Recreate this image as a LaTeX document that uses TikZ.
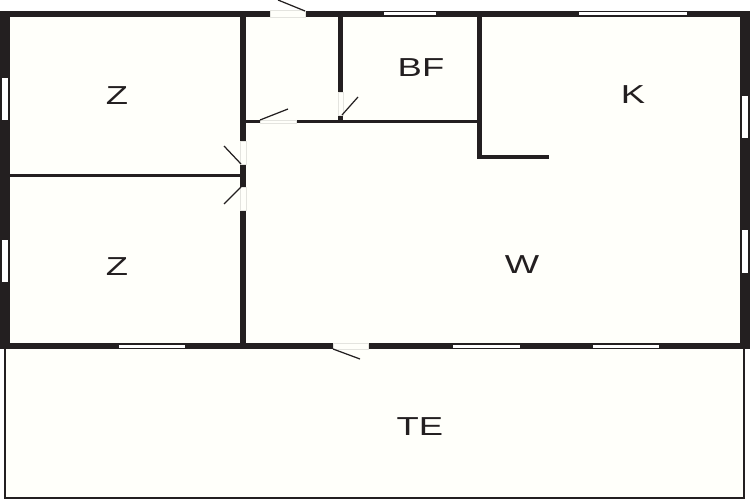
\documentclass[tikz,border=0pt]{standalone}
\usepackage{graphicx}
\usepackage{fontspec}
\setmainfont{Liberation Sans}
\definecolor{wallblack}{HTML}{231F20}
\definecolor{floorwhite}{HTML}{FFFFFA}
\definecolor{gapgrey}{HTML}{E4E4DF}
\newcommand{\roomname}[1]{\scalebox{1.4}[1]{#1}}
\tikzset{
    wall/.style = {
        fill=wallblack
    },
    window/.style = {
        fill=white
    },
    gap/.style = {
        fill=floorwhite,
        draw=gapgrey,
        line width=0.4pt
    },
    swing/.style = {
        draw=wallblack,
        line width=0.7pt
    },
    room/.style = {
        text=wallblack,
        inner sep=0pt,
        font=\fontsize{14.8}{15}\selectfont
    }
}
\begin{document}
\begin{tikzpicture}[x=0.02cm,y=-0.02cm]
    \useasboundingbox (0,0) rectangle (750,500);
    % floors
    \fill[white] (0,0) rectangle (750,500);
    \fill[floorwhite] (5,11) rectangle (745,498);
    % terrace
    \draw[wallblack, line width=1.1pt] (5,349) -- (5,498) -- (744,498) -- (744,349);
    % outer walls
    \fill[wall] (0,11) rectangle (750,17);
    \fill[wall] (0,11) rectangle (10,349);
    \fill[wall] (740,11) rectangle (750,349);
    \fill[wall] (0,343) rectangle (750,349);
    % inner walls
    \fill[wall] (240,17) rectangle (246,141);
    \fill[wall] (240,164) rectangle (246,187);
    \fill[wall] (240,210) rectangle (246,343);
    \fill[wall] (10,174) rectangle (240,177);
    \fill[wall] (246,120) rectangle (260,123);
    \fill[wall] (296,120) rectangle (480,123);
    \fill[wall] (338,17) rectangle (343,92);
    \fill[wall] (338,115) rectangle (343,120);
    \fill[wall] (477,17) rectangle (482,159);
    \fill[wall] (482,155) rectangle (549,159);
    % windows
    \fill[window] (384,12.5) rectangle (436,15.5);
    \fill[window] (579,12.5) rectangle (687,15.5);
    \fill[window] (119,344.5) rectangle (185,348);
    \fill[window] (453,344.5) rectangle (520,348);
    \fill[window] (593,344.5) rectangle (659,348);
    \fill[window] (2,78) rectangle (8,120);
    \fill[window] (2,240) rectangle (8,282);
    \fill[window] (742,96) rectangle (748,138);
    \fill[window] (742,230) rectangle (748,273);
    % doors
    \filldraw[gap] (270,10) rectangle (305,17);
    \filldraw[gap] (333,343) rectangle (368,349);
    \filldraw[gap] (260,120) rectangle (296,123);
    \filldraw[gap] (338,92) rectangle (343,115);
    \filldraw[gap] (240,141) rectangle (246,164);
    \filldraw[gap] (240,187) rectangle (246,210);
    \path[swing] (305,11) -- (278,0);
    \path[swing] (333,349) -- (360,359);
    \path[swing] (260,120) -- (288,109);
    \path[swing] (342,115) -- (358,97);
    \path[swing] (241,164) -- (224,146);
    \path[swing] (241,187) -- (224,204);
    % labels
    \node[room] (zupper) at (117,96) {\roomname{Z}};
    \node[room] (zlower) at (117,267) {\roomname{Z}};
    \node[room] (bf) at (421,68) {\roomname{BF}};
    \node[room] (k) at (633,95) {\roomname{K}};
    \node[room] (w) at (522,265) {\roomname{W}};
    \node[room] (te) at (420,427) {\roomname{TE}};
\end{tikzpicture}
\end{document}
